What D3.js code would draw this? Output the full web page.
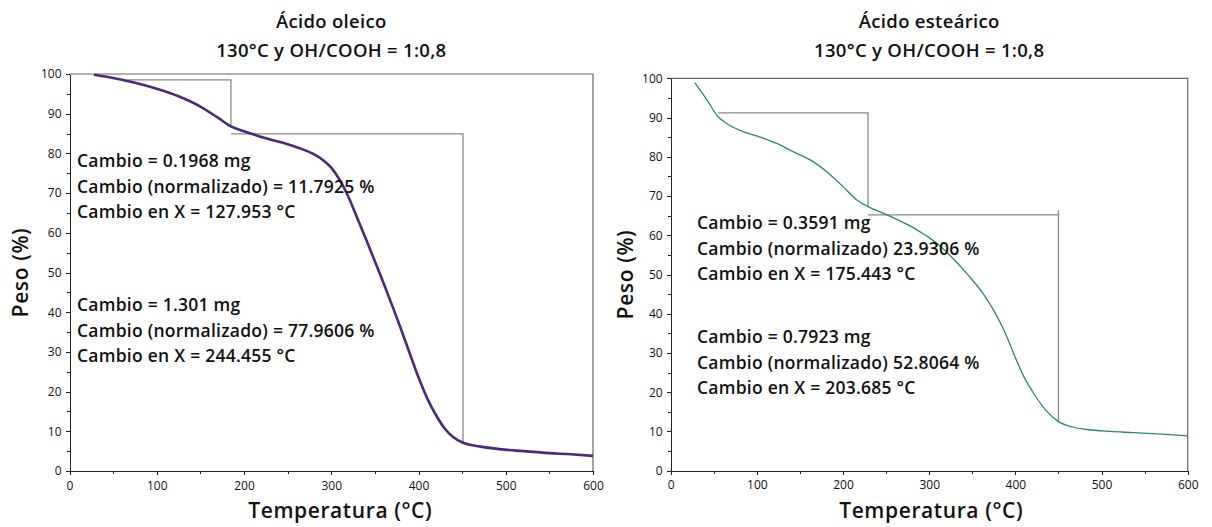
<!DOCTYPE html>
<html lang="es">
<head>
<meta charset="utf-8">
<title>TGA ácidos</title>
<style>
body { margin: 0; background: #fff; }
svg text { font-family: "Open Sans", "Noto Sans", sans-serif; fill: #111; }
.tick text { font-size: 12px; }
.axis path, .axis line { stroke: #222; shape-rendering: crispEdges; }
.frame { fill: none; stroke: #666; stroke-width: 1.2; }
.step { fill: none; stroke: #8a8a8a; stroke-width: 1.3; }
.title { font-size: 18.5px; font-weight: 600; text-anchor: middle; letter-spacing: 0.3px; }
.alabel { font-size: 21px; font-weight: 600; text-anchor: middle; letter-spacing: 0.6px; }
.note { font-size: 17.5px; font-weight: 600; letter-spacing: 0.25px; }
</style>
</head>
<body>
<svg id="chart" width="1212" height="527"></svg>
<script src="https://d3js.org/d3.v7.min.js"></script>
<script>
// curva TGA ácido oleico (temperatura °C, peso %)
var oleicoT = [28, 50, 75, 100, 125, 150, 170, 185, 200, 225, 250, 265, 280, 290, 300, 310, 321, 330, 340, 350, 360, 370, 380, 390, 400, 410, 420, 430, 440, 451, 470, 493, 520, 550, 575, 600];
var oleicoW = [99.8, 99.0, 97.8, 96.3, 94.4, 91.8, 89.0, 86.8, 85.6, 83.8, 82.3, 81.2, 79.8, 78.4, 76.4, 73.2, 68.4, 63.6, 58.3, 52.8, 47.3, 41.6, 35.7, 29.6, 23.6, 18.3, 14.1, 10.7, 8.5, 7.1, 6.2, 5.5, 5.0, 4.5, 4.2, 3.8];

// curva TGA ácido esteárico
var estearicoT = [28, 42, 55, 65, 84, 104, 123, 142, 162, 181, 200, 216, 229, 247, 260, 275, 290, 300, 315, 328, 345, 363, 375, 385, 393, 401, 410, 421, 435, 450, 465, 483, 510, 537, 570, 600];
var estearicoW = [98.9, 94.5, 90.2, 88.5, 86.4, 85.0, 83.4, 81.3, 79.2, 76.2, 72.4, 69.0, 67.3, 65.6, 64.3, 62.7, 60.8, 59.4, 56.8, 54.0, 49.9, 45.0, 40.8, 36.6, 32.6, 28.3, 23.9, 19.8, 15.5, 12.5, 11.2, 10.5, 10.0, 9.7, 9.3, 8.9];

// escalones de las marcas de cambio [T, peso]
var oleicoSteps = [
  [[66, 98.5], [185, 98.5], [185, 86.6]],
  [[185, 84.9], [451, 84.9], [451, 7.1]]
];
var estearicoSteps = [
  [[55, 91.2], [229, 91.2], [229, 67.3]],
  [[229, 65.2], [450, 65.2], [450, 12.5]]
];
var estearicoTick = [[450, 65.2], [450, 66.4]];

var oleicoNotes = [
  ["Cambio = 0.1968 mg", "Cambio (normalizado) = 11.7925 %", "Cambio en X = 127.953 °C"],
  ["Cambio = 1.301 mg", "Cambio (normalizado) = 77.9606 %", "Cambio en X = 244.455 °C"]
];
var estearicoNotes = [
  ["Cambio = 0.3591 mg", "Cambio (normalizado) 23.9306 %", "Cambio en X = 175.443 °C"],
  ["Cambio = 0.7923 mg", "Cambio (normalizado) 52.8064 %", "Cambio en X = 203.685 °C"]
];

var xTicks = [0, 100, 200, 300, 400, 500, 600];
var yTicks = [0, 10, 20, 30, 40, 50, 60, 70, 80, 90, 100];

var svg = d3.select('#chart');

function panel(opt) {
  var x = d3.scaleLinear().domain([0, 600]).range(opt.xr);
  var y = d3.scaleLinear().domain([0, 100]).range(opt.yr);
  var g = svg.append('g');

  // marco superior y derecho
  g.append('path').attr('class', 'frame')
    .attr('d', 'M' + x(0) + ',' + y(100) + 'H' + x(600) + 'V' + y(0));

  // ticks menores
  g.append('g').attr('class', 'axis')
    .attr('transform', 'translate(0,' + y(0) + ')')
    .call(d3.axisBottom(x).tickValues(d3.range(50, 600, 100)).tickSize(3).tickFormat(''))
    .select('.domain').remove();
  g.append('g').attr('class', 'axis')
    .attr('transform', 'translate(' + x(0) + ',0)')
    .call(d3.axisLeft(y).tickValues(d3.range(5, 100, 10)).tickSize(3).tickFormat(''))
    .select('.domain').remove();

  g.append('g').attr('class', 'axis')
    .attr('transform', 'translate(0,' + y(0) + ')')
    .call(d3.axisBottom(x).tickValues(xTicks).tickSize(4).tickSizeOuter(0).tickPadding(6));
  g.append('g').attr('class', 'axis')
    .attr('transform', 'translate(' + x(0) + ',0)')
    .call(d3.axisLeft(y).tickValues(yTicks).tickSize(4).tickSizeOuter(0).tickPadding(4));

  var line = d3.line().x(function(d) { return x(d[0]); }).y(function(d) { return y(d[1]); });

  opt.steps.forEach(function(s) {
    g.append('path').attr('class', 'step').attr('d', line(s));
  });
  if (opt.extra) g.append('path').attr('class', 'step').attr('d', line(opt.extra));

  var pts = opt.T.map(function(t, i) { return [t, opt.W[i]]; });
  g.append('path')
    .attr('fill', 'none')
    .attr('stroke', opt.color)
    .attr('stroke-width', opt.width)
    .attr('d', line.curve(d3.curveMonotoneX)(pts));

  opt.notes.forEach(function(block, b) {
    block.forEach(function(txt, i) {
      g.append('text').attr('class', 'note')
        .attr('x', opt.noteX)
        .attr('y', opt.noteY[b] + i * 25.6)
        .attr('dy', '0.35em')
        .text(txt);
    });
  });

  var cx = (x(0) + x(600)) / 2;
  g.append('text').attr('class', 'title').attr('x', cx).attr('y', 22).attr('dy', '0.35em').text(opt.title);
  g.append('text').attr('class', 'title').attr('x', cx).attr('y', 51).attr('dy', '0.35em').text('130°C y OH/COOH = 1:0,8');

  g.append('text').attr('class', 'alabel').attr('x', cx + opt.xlabShift).attr('y', 511).attr('dy', '0.35em').text('Temperatura (°C)');
  g.append('text').attr('class', 'alabel')
    .attr('transform', 'translate(' + opt.ylabX + ',' + ((y(0) + y(100)) / 2) + ') rotate(-90)')
    .attr('dy', '0.35em').text('Peso (%)');
}

panel({
  xr: [69.5, 593], yr: [471, 74],
  T: oleicoT, W: oleicoW, color: '#4b2a7e', width: 2.6,
  steps: oleicoSteps, notes: oleicoNotes, noteX: 77, noteY: [161, 305],
  title: 'Ácido oleico', ylabX: 21, xlabShift: 9
});

panel({
  xr: [670.7, 1187.7], yr: [470.7, 78.3],
  T: estearicoT, W: estearicoW, color: '#2e8b57', width: 1.3,
  steps: estearicoSteps, extra: estearicoTick, notes: estearicoNotes, noteX: 697, noteY: [223, 337],
  title: 'Ácido esteárico', ylabX: 626, xlabShift: 2
});
</script>
</body>
</html>
